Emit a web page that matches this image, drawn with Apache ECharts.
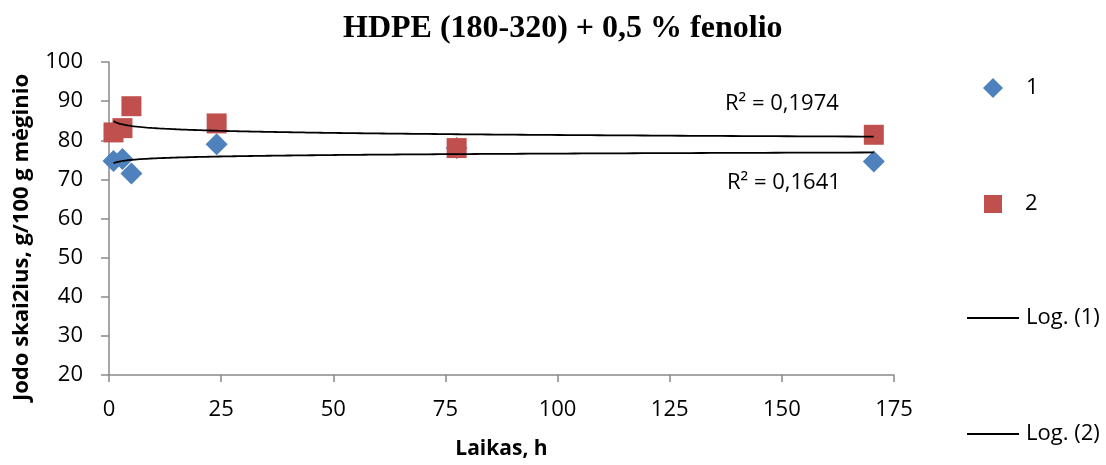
<!DOCTYPE html>
<html>
<head>
<meta charset="utf-8">
<script src="https://cdn.jsdelivr.net/npm/echarts@6/dist/echarts.min.js"></script>
<style>
html,body{margin:0;padding:0;background:#fff;}
#c{width:1106px;height:465px;}
</style>
</head>
<body>
<div id="c"></div>
<script>
// Data
const timeH = [1, 3, 5, 24, 77.5, 170.5];
const series1 = [74.7, 75.2, 71.5, 79.0, 78.0, 74.6];
const series2 = [82.0, 83.1, 88.7, 84.3, 78.0, 81.4];
const xTicks = [0, 25, 50, 75, 100, 125, 150, 175];
const yTicks = [20, 30, 40, 50, 60, 70, 80, 90, 100];
const r2Labels = ['R² = 0,1641', 'R² = 0,1974'];

// Logarithmic trendline (least squares on ln x), like a spreadsheet trendline
function logFit(xs, ys) {
  const lx = xs.map(Math.log);
  const n = xs.length;
  const mx = lx.reduce((a, b) => a + b, 0) / n;
  const my = ys.reduce((a, b) => a + b, 0) / n;
  let sxy = 0, sxx = 0;
  for (let i = 0; i < n; i++) { sxy += (lx[i] - mx) * (ys[i] - my); sxx += (lx[i] - mx) ** 2; }
  const a = sxy / sxx, b = my - a * mx;
  const x0 = Math.min(...xs), x1 = Math.max(...xs);
  const pts = [];
  const steps = 300;
  for (let k = 0; k <= steps; k++) {
    const x = x0 * Math.pow(x1 / x0, k / steps);
    pts.push([x, a * Math.log(x) + b]);
  }
  return pts;
}

const pts1 = timeH.map((x, i) => [x, series1[i]]);
const pts2 = timeH.map((x, i) => [x, series2[i]]);
const trend1 = logFit(timeH, series1);
const trend2 = logFit(timeH, series2);

const FONT = 'Open Sans';
const chart = echarts.init(document.getElementById('c'), null, {renderer: 'canvas'});
const axisColor = '#898989';

function legendBox(name, left, top, icon, w, h) {
  return {
    data: [{name: name, icon: icon}],
    left: left, top: top,
    itemWidth: w, itemHeight: h,
    selectedMode: false,
    padding: 0,
    textStyle: {fontFamily: FONT, fontSize: 22, color: '#000',
      padding: icon === 'rect' && w > 30 ? [0, 0, 0, 2] : [0, 0, 0, 18]}
  };
}

chart.setOption({
  animation: false,
  backgroundColor: '#fff',
  title: {
    text: 'HDPE (180-320) + 0,5 % fenolio',
    left: 338, top: 8,
    textStyle: {fontFamily: 'Liberation Serif', fontWeight: 'bold', fontSize: 32, color: '#000'}
  },
  grid: {left: 109, right: 212, top: 62, bottom: 86, containLabel: false},
  legend: [
    legendBox('1', 983, 77, 'diamond', 20, 20),
    legendBox('2', 984, 193, 'rect', 18, 18),
    legendBox('Log. (1)', 967, 307, 'rect', 52, 2),
    legendBox('Log. (2)', 967, 423, 'rect', 52, 2)
  ],
  xAxis: {
    type: 'value', min: xTicks[0], max: xTicks[xTicks.length - 1], interval: 25,
    name: 'Laikas, h', nameLocation: 'middle', nameGap: 64,
    nameTextStyle: {fontFamily: FONT, fontWeight: 'bold', fontSize: 21, color: '#000'},
    axisLine: {show: true, onZero: false, lineStyle: {color: axisColor, width: 1.5}},
    axisTick: {show: true, length: 7, lineStyle: {color: axisColor, width: 1.5}},
    axisLabel: {fontFamily: FONT, fontSize: 22, color: '#000', margin: 24},
    splitLine: {show: false}
  },
  yAxis: {
    type: 'value', min: yTicks[0], max: yTicks[yTicks.length - 1], interval: 10,
    name: 'Jodo skai2ius, g/100 g mėginio', nameLocation: 'middle', nameGap: 76,
    nameTextStyle: {fontFamily: FONT, fontWeight: 'bold', fontSize: 22, color: '#000', padding: [0, 38, 0, 0]},
    axisLine: {show: true, onZero: false, lineStyle: {color: axisColor, width: 1.5}},
    axisTick: {show: true, length: 8, lineStyle: {color: axisColor, width: 1.5}},
    axisLabel: {fontFamily: FONT, fontSize: 22, color: '#000', margin: 26},
    splitLine: {show: false}
  },
  series: [
    {name: '1', type: 'scatter', data: pts1, symbol: 'diamond', symbolSize: 22,
      itemStyle: {color: '#4F81BD', opacity: 1}, z: 2},
    {name: '2', type: 'scatter', data: pts2, symbol: 'rect', symbolSize: 20,
      itemStyle: {color: '#C0504D', opacity: 1}, z: 3},
    {name: 'Log. (1)', type: 'line', data: trend1, showSymbol: false, symbol: 'none',
      lineStyle: {color: '#000', width: 1.8}, itemStyle: {color: '#000'}, z: 5},
    {name: 'Log. (2)', type: 'line', data: trend2, showSymbol: false, symbol: 'none',
      lineStyle: {color: '#000', width: 1.8}, itemStyle: {color: '#000'}, z: 5}
  ],
  graphic: [
    {type: 'text', left: 725, top: 93, style: {text: r2Labels[1], fontFamily: FONT, fontSize: 22, fill: '#000'}},
    {type: 'text', left: 727, top: 172, style: {text: r2Labels[0], fontFamily: FONT, fontSize: 22, fill: '#000'}}
  ]
});
</script>
</body>
</html>
